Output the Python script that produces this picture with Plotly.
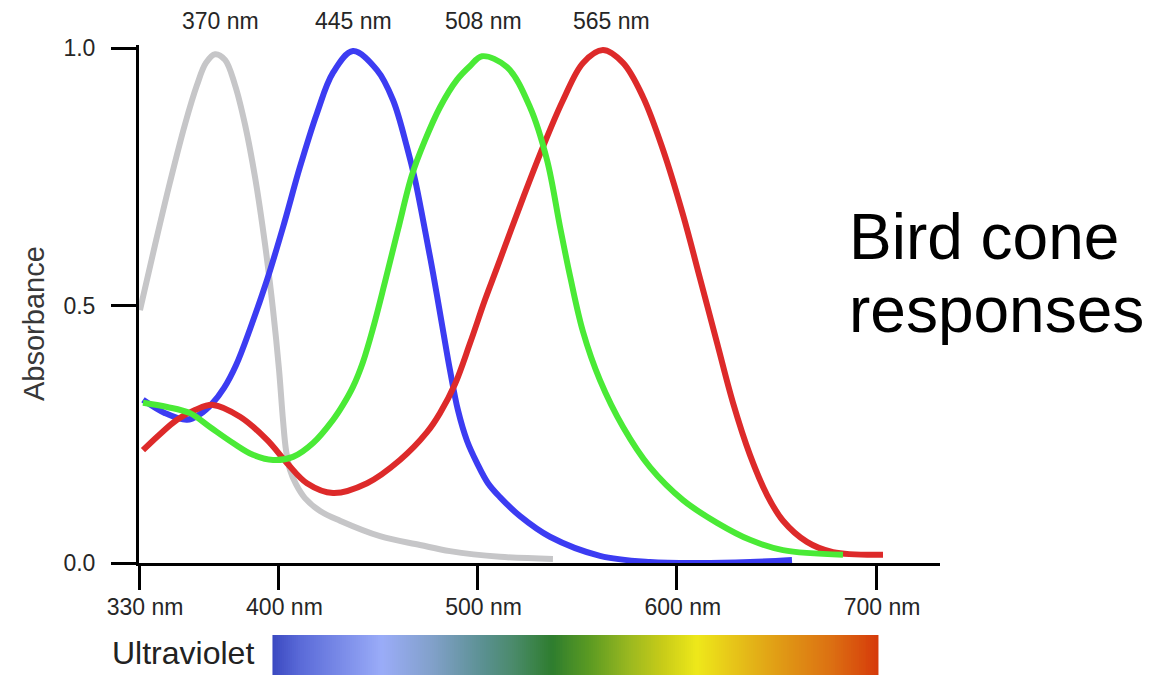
import numpy as np
import plotly.graph_objects as go

# ---------------- data ----------------
gray_nm = [330.5, 338.0, 345.6, 353.1, 359.1, 363.6, 368.2, 373.2, 378.2, 383.3, 388.3, 393.3,
           397.3, 400.3, 402.3, 403.8, 405.8, 408.8, 413.3, 420.9, 430.9, 451.0, 471.1, 486.1,
           511.2, 537.8]
gray_abs = [0.491, 0.617, 0.740, 0.852, 0.928, 0.971, 0.988, 0.977, 0.928, 0.850, 0.748, 0.618,
            0.491, 0.375, 0.277, 0.219, 0.181, 0.153, 0.126, 0.101, 0.082, 0.052, 0.035, 0.023,
            0.012, 0.008]

blue_nm = [332.0, 343.1, 354.1, 360.6, 366.6, 372.7, 378.7, 385.7, 394.3, 402.3, 410.8, 419.4,
           427.4, 437.4, 449.5, 457.5, 464.5, 468.6, 472.6, 477.6, 482.6, 486.1, 490.1, 494.7,
           499.7, 505.2, 511.2, 521.3, 536.3, 561.4, 586.5, 611.6, 636.7, 657.8]
blue_abs = [0.317, 0.291, 0.278, 0.289, 0.309, 0.340, 0.384, 0.454, 0.550, 0.652, 0.769, 0.874,
            0.952, 0.994, 0.957, 0.899, 0.808, 0.744, 0.666, 0.563, 0.452, 0.375, 0.297, 0.237,
            0.194, 0.155, 0.128, 0.091, 0.051, 0.014, 0.002, 0.000, 0.002, 0.006]

green_nm = [332.0, 344.1, 355.6, 365.6, 377.2, 387.2, 397.3, 407.3, 417.4, 427.4, 432.4, 437.4,
            442.4, 447.5, 453.5, 460.0, 467.0, 473.6, 481.1, 489.6, 496.2, 502.2, 514.7, 526.3,
            534.8, 541.4, 546.4, 552.9, 561.4, 573.0, 586.5, 603.1, 620.2, 636.7, 653.3, 683.4]
green_abs = [0.311, 0.303, 0.291, 0.264, 0.233, 0.210, 0.200, 0.206, 0.233, 0.278, 0.307, 0.342,
             0.390, 0.456, 0.546, 0.647, 0.753, 0.821, 0.885, 0.938, 0.965, 0.984, 0.963, 0.885,
             0.783, 0.652, 0.557, 0.449, 0.355, 0.264, 0.186, 0.122, 0.078, 0.045, 0.025, 0.016]

red_nm = [332.0, 340.5, 349.1, 358.1, 367.1, 380.7, 394.3, 404.3, 414.3, 427.4, 444.5, 461.0,
          474.6, 481.1, 488.6, 496.2, 503.7, 509.7, 522.8, 532.8, 542.9, 552.9, 562.9, 573.0,
          583.0, 593.1, 603.1, 611.6, 620.2, 628.2, 636.7, 645.3, 653.3, 665.3, 678.4, 703.5]
red_abs = [0.219, 0.250, 0.278, 0.297, 0.307, 0.284, 0.239, 0.194, 0.155, 0.136, 0.155, 0.200,
           0.254, 0.291, 0.347, 0.427, 0.511, 0.573, 0.709, 0.808, 0.899, 0.971, 0.996, 0.971,
           0.905, 0.802, 0.676, 0.553, 0.427, 0.311, 0.210, 0.132, 0.082, 0.041, 0.021, 0.016]

peak_label_nm = [370.7, 437.7, 502.9, 567.3]
peak_labels = ["370 nm", "445 nm", "508 nm", "565 nm"]

x_tickvals = [330, 400, 500, 600, 700]
x_ticktext = ["330 nm", "400 nm", "500 nm", "600 nm", "700 nm"]
y_tickvals = [0.0, 0.5, 1.0]
y_ticktext = ["0.0", "0.5", "1.0"]

spectrum_nm = [397, 411, 452, 478, 503, 518, 537, 556, 576, 593, 610, 635, 652, 677, 701]
spectrum_colors = ["#3a48c0", "#5a6ad8", "#9aacf8", "#80a0c8", "#5a9090", "#4a8a6a", "#2e7d2e",
                   "#5a9a22", "#9ab820", "#c8cc18", "#eee81a", "#e4b818", "#e09a15", "#dc7012",
                   "#d63a0a"]

curve_colors = {"gray": "#c6c6c8", "blue": "#3c3cf2", "red": "#dd2a2a", "green": "#4aea36"}

# ---------------- geometry ----------------
W, H = 1149, 676
L, R, T, B = 139, 209, 45, 0
PW, PH = W - L - R, H - T - B
X0 = 330
PX_PER_NM = 1.992
Y0_PX = 563
PX_PER_UNIT = 515


def py(p):          # pixel row -> paper y
    return (H - B - p) / PH


def px(p):          # pixel column -> paper x
    return (p - L) / PW


fig = go.Figure()

# spectrum bar
spec_x = np.arange(spectrum_nm[0] + 0.5, spectrum_nm[-1], 1.0)
lo, hi = spectrum_nm[0], spectrum_nm[-1]
cscale = [[(n - lo) / (hi - lo), c] for n, c in zip(spectrum_nm, spectrum_colors)]
fig.add_trace(go.Heatmap(x=spec_x, y=[0], z=[spec_x], colorscale=cscale, zmin=lo, zmax=hi,
                         showscale=False, xaxis="x", yaxis="y2", hoverinfo="skip"))

for name, xs, ys in [("gray", gray_nm, gray_abs), ("blue", blue_nm, blue_abs),
                     ("red", red_nm, red_abs), ("green", green_nm, green_abs)]:
    fig.add_trace(go.Scatter(x=xs, y=ys, mode="lines",
                             line=dict(color=curve_colors[name], width=6, shape="spline", smoothing=1.0),
                             hoverinfo="skip", showlegend=False))

tick_font = dict(family="Liberation Sans, Arial, sans-serif", size=23, color="#262626")
label_font = "Liberation Sans, Arial, sans-serif"

fig.update_layout(
    width=W, height=H, margin=dict(l=L, r=R, t=T, b=B, autoexpand=False),
    paper_bgcolor="white", plot_bgcolor="white", showlegend=False,
    xaxis=dict(domain=[0, 1], range=[X0, X0 + PW / PX_PER_NM], anchor="y", automargin=False,
               tickvals=x_tickvals, ticktext=x_ticktext, ticks="outside", ticklen=24, tickwidth=3,
               tickcolor="black", showline=True, linecolor="black", linewidth=3,
               showgrid=False, zeroline=False, tickfont=tick_font,
               ticklabelstandoff=-3, ticklabelshift=6),
    yaxis=dict(domain=[py(Y0_PX), 1], range=[0, (Y0_PX - T) / PX_PER_UNIT], anchor="x",
               automargin=False,
               tickvals=y_tickvals, ticktext=y_ticktext, ticks="outside", ticklen=25, tickwidth=3,
               tickcolor="black", showline=True, linecolor="black", linewidth=3,
               showgrid=False, zeroline=False, tickfont=tick_font, ticklabelstandoff=11),
    yaxis2=dict(domain=[py(675), py(635)], range=[-0.5, 0.5], anchor="x", visible=False,
                automargin=False),
)

annotations = []
for xv, t in zip(peak_label_nm, peak_labels):
    annotations.append(dict(x=xv, y=py(21), xref="x", yref="paper", text=t, showarrow=False,
                            font=tick_font, xanchor="center", yanchor="middle"))
annotations += [
    dict(x=px(34), y=py(324), xref="paper", yref="paper", text="Absorbance", textangle=-90,
         showarrow=False, font=dict(family=label_font, size=29, color="#383838"),
         xanchor="center", yanchor="middle"),
    dict(x=px(110), y=py(653), xref="paper", yref="paper", text="Ultraviolet", showarrow=False,
         font=dict(family=label_font, size=32, color="#222222"), xanchor="left", yanchor="middle"),
    dict(x=px(847), y=py(237), xref="paper", yref="paper", text="Bird cone", showarrow=False,
         font=dict(family=label_font, size=64, color="black"),
         xanchor="left", yanchor="middle"),
    dict(x=px(847), y=py(310), xref="paper", yref="paper", text="responses", showarrow=False,
         font=dict(family=label_font, size=64, color="black"),
         xanchor="left", yanchor="middle"),
]
fig.update_layout(annotations=annotations)

fig.write_html("out.html", config={"displayModeBar": False},
               post_script="document.body.style.margin='0px';")
